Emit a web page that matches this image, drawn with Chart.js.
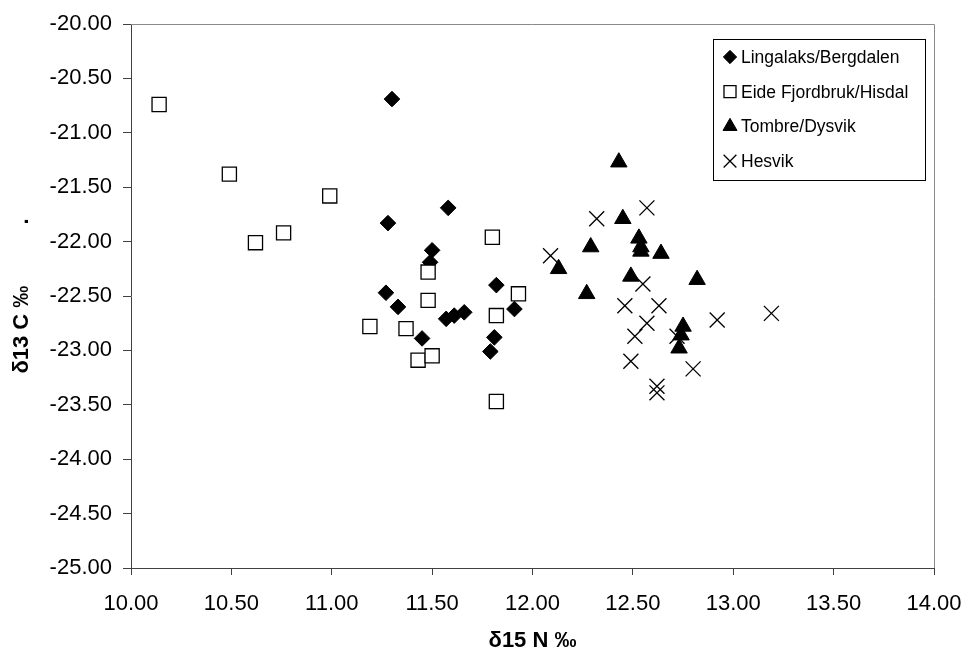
<!DOCTYPE html>
<html>
<head>
<meta charset="utf-8">
<script src="https://cdn.jsdelivr.net/npm/chart.js@4"></script>
<style>
  html, body { margin: 0; padding: 0; background: #fff; }
  #wrap { width: 966px; height: 649px; }
</style>
</head>
<body>
<div id="wrap"><canvas id="myChart" width="966" height="649"></canvas></div>
<script>
// Datos: δ15 N (x) y δ13 C (y) por localidad
const seriesNames = ['Lingalaks/Bergdalen', 'Eide Fjordbruk/Hisdal', 'Tombre/Dysvik', 'Hesvik'];

const lingalaksN = [11.30, 11.28, 11.58, 11.50, 11.49, 11.27, 11.33, 11.45, 11.57, 11.61, 11.66, 11.82, 11.91, 11.81, 11.79];
const lingalaksC = [-20.69, -21.83, -21.69, -22.08, -22.19, -22.47, -22.60, -22.89, -22.71, -22.68, -22.65, -22.40, -22.62, -22.88, -23.01];

const eideN = [10.14, 10.49, 10.99, 10.62, 10.76, 11.80, 11.48, 11.48, 11.19, 11.37, 11.43, 11.50, 11.93, 11.82, 11.82];
const eideC = [-20.74, -21.38, -21.58, -22.01, -21.92, -21.96, -22.28, -22.54, -22.78, -22.80, -23.09, -23.05, -22.48, -22.68, -23.47];

const tombreN = [12.43, 12.45, 12.29, 12.53, 12.54, 12.54, 12.64, 12.13, 12.49, 12.82, 12.27, 12.75, 12.74, 12.73];
const tombreC = [-21.27, -21.79, -22.05, -21.97, -22.05, -22.09, -22.11, -22.25, -22.32, -22.35, -22.48, -22.78, -22.86, -22.98];

const hesvikN = [12.57, 12.32, 12.09, 12.55, 12.46, 12.63, 12.92, 13.19, 12.57, 12.51, 12.72, 12.49, 12.80, 12.62, 12.62];
const hesvikC = [-21.69, -21.79, -22.13, -22.39, -22.59, -22.59, -22.72, -22.66, -22.75, -22.87, -22.87, -23.10, -23.17, -23.33, -23.39];

const xTicks = [10, 10.5, 11, 11.5, 12, 12.5, 13, 13.5, 14];
const yTicks = [-25, -24.5, -24, -23.5, -23, -22.5, -22, -21.5, -21, -20.5, -20];

const pts = (xs, ys) => xs.map((x, i) => ({ x: x, y: ys[i] }));

// Borde superior y derecho del área de trazado
const plotBorder = {
    id: 'plotBorder',
    afterDraw(chart) {
        const { ctx, chartArea: a } = chart;
        ctx.save();
        ctx.strokeStyle = '#8a8a8a';
        ctx.lineWidth = 1;
        ctx.beginPath();
        ctx.moveTo(a.left, a.top + 0.5);
        ctx.lineTo(a.right + 0.5, a.top + 0.5);
        ctx.lineTo(a.right + 0.5, a.bottom);
        ctx.stroke();
        ctx.restore();
    }
};

// Leyenda con recuadro dentro del área
const boxLegend = {
    id: 'boxLegend',
    afterDraw(chart) {
        const ctx = chart.ctx;
        const left = 713, top = 39, w = 212, h = 141;
        ctx.save();
        ctx.fillStyle = '#fff';
        ctx.fillRect(left, top, w, h);
        ctx.strokeStyle = '#000';
        ctx.lineWidth = 1;
        ctx.strokeRect(left + 0.5, top + 0.5, w, h);
        ctx.font = '17.5px "Liberation Sans", Arial, sans-serif';
        ctx.textBaseline = 'middle';
        ctx.fillStyle = '#000';
        chart.data.datasets.forEach((ds, i) => {
            const y = top + 18 + i * 34.7;
            ctx.lineWidth = ds.borderWidth;
            ctx.strokeStyle = ds.borderColor;
            ctx.fillStyle = ds.backgroundColor;
            Chart.helpers.drawPoint(ctx, { pointStyle: ds.pointStyle, radius: ds.pointRadius * 0.85, rotation: 0, borderWidth: ds.borderWidth }, left + 17, y);
            ctx.fillStyle = '#000';
            ctx.fillText(ds.label, left + 28, y + 1);
        });
        ctx.restore();
    }
};

const ctx = document.getElementById('myChart').getContext('2d');
const myChart = new Chart(ctx, {
    type: 'scatter',
    data: {
        datasets: [{
            label: seriesNames[0],
            data: pts(lingalaksN, lingalaksC),
            pointStyle: 'rectRot',
            pointRadius: 7.8,
            backgroundColor: '#000',
            borderColor: '#000',
            borderWidth: 1,
            order: 4
        }, {
            label: seriesNames[1],
            data: pts(eideN, eideC),
            pointStyle: 'rect',
            pointRadius: 10,
            backgroundColor: '#fff',
            borderColor: '#000',
            borderWidth: 1.3,
            order: 3
        }, {
            label: seriesNames[2],
            data: pts(tombreN, tombreC),
            pointStyle: 'triangle',
            pointRadius: 9.5,
            backgroundColor: '#000',
            borderColor: '#000',
            borderWidth: 1,
            order: 2
        }, {
            label: seriesNames[3],
            data: pts(hesvikN, hesvikC),
            pointStyle: 'crossRot',
            pointRadius: 10.6,
            backgroundColor: '#000',
            borderColor: '#000',
            borderWidth: 1.3,
            order: 1
        }]
    },
    options: {
        responsive: false,
        animation: false,
        layout: { padding: { top: 24, right: 32, left: 0, bottom: 0 } },
        scales: {
            x: {
                type: 'linear',
                min: 10,
                max: 14,
                afterBuildTicks: (s) => { s.ticks = xTicks.map(v => ({ value: v })); },
                afterFit: (s) => { s.height = 81; s.paddingLeft = 0; s.paddingRight = 0; },
                ticks: {
                    color: '#000',
                    padding: 16,
                    font: { family: '"Liberation Sans", Arial, sans-serif', size: 22 },
                    callback: (v) => Number(v).toFixed(2)
                },
                grid: { drawOnChartArea: false, tickLength: 7, color: '#404040' },
                border: { color: '#404040', width: 1 },
                title: {
                    display: true,
                    text: 'δ15 N ‰',
                    color: '#000',
                    padding: 0,
                    font: { family: '"Liberation Sans", Arial, sans-serif', size: 22, weight: 'bold', lineHeight: 0.75 }
                }
            },
            y: {
                type: 'linear',
                min: -25,
                max: -20,
                afterBuildTicks: (s) => { s.ticks = yTicks.map(v => ({ value: v })); },
                afterFit: (s) => { s.width = 131; s.paddingTop = 0; s.paddingBottom = 0; },
                ticks: {
                    color: '#000',
                    padding: 11,
                    font: { family: '"Liberation Sans", Arial, sans-serif', size: 22 },
                    callback: (v) => Number(v).toFixed(2)
                },
                grid: { drawOnChartArea: false, tickLength: 8, color: '#404040' },
                border: { color: '#404040', width: 1 },
                title: {
                    display: true,
                    text: 'δ13 C ‰          .',
                    color: '#000',
                    padding: { top: 9, bottom: 0 },
                    font: { family: '"Liberation Sans", Arial, sans-serif', size: 22, weight: 'bold' }
                }
            }
        },
        plugins: {
            legend: { display: false },
            tooltip: { enabled: false }
        }
    },
    plugins: [plotBorder, boxLegend]
});
</script>
</body>
</html>
